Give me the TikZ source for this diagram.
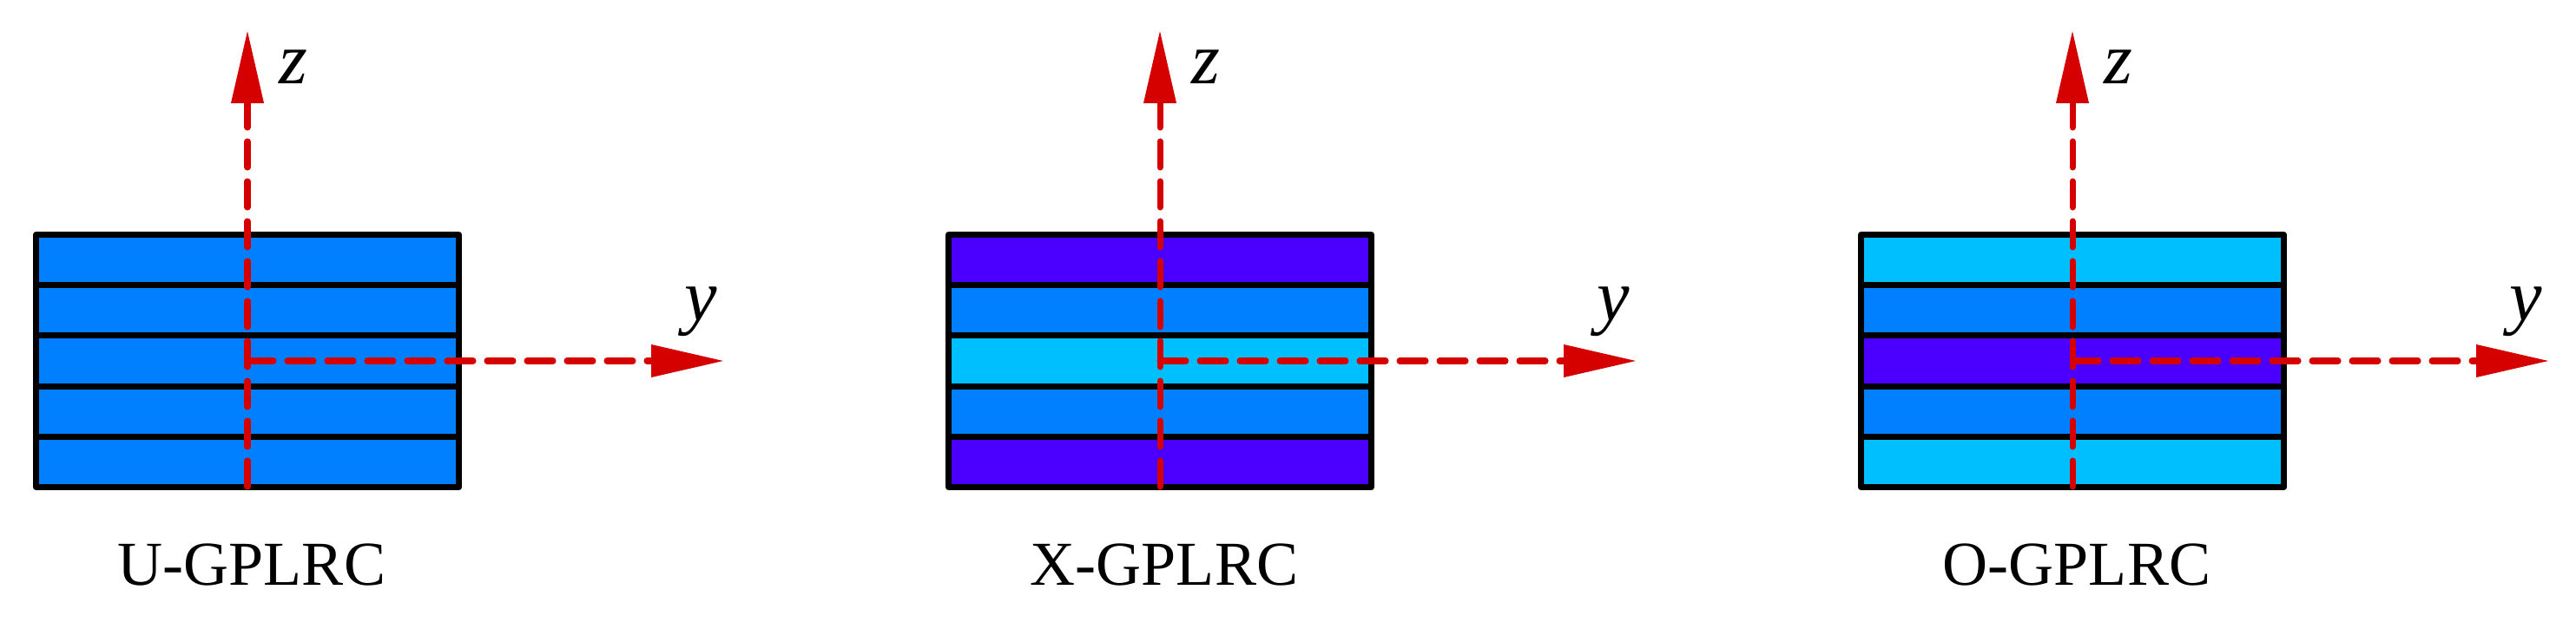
\documentclass[tikz,border=0pt]{standalone}
\usepackage{fontspec}
\setmainfont{Liberation Serif}
\usetikzlibrary{arrows.meta,calc}
\definecolor{gpblue}{RGB}{0,128,255}
\definecolor{gpcyan}{RGB}{0,191,255}
\definecolor{gppurple}{RGB}{75,0,255}
\definecolor{axisred}{RGB}{213,0,0}

\begin{document}
\begin{tikzpicture}[>={Triangle[length=8.4mm,width=3.6mm]},
  layer/.style={line width=2pt, line join=round},
  axis/.style={->, axisred, line width=2pt, line cap=round, dash pattern=on 3mm off 1.6mm},
  axlabel/.style={font=\fontsize{24}{28}\selectfont\itshape},
  caption/.style={font=\fontsize{20.5}{24}\selectfont}]
  \useasboundingbox (0,0) rectangle (29.67,7.25);

  \foreach \px/\outer/\ring/\core/\kind [count=\i] in
      {2.85/gpblue/gpblue/gpblue/U, 13.36/gppurple/gpblue/gpcyan/X, 23.87/gpcyan/gpblue/gppurple/O}{
    \coordinate (O\i) at (\px,3.09);
    \coordinate (SW\i) at ($(O\i)+(-2.435,-1.455)$);
    \coordinate (NE\i) at ($(O\i)+(2.435,1.455)$);
    \coordinate (B\i) at ($(O\i)+(0,-1.45)$);
    \coordinate (Z\i) at ($(O\i)+(0,3.81)$);
    \coordinate (Y\i) at ($(O\i)+(5.49,0)$);

    % layers, bottom to top
    \foreach \c [count=\k from 0] in {\outer,\ring,\core,\ring,\outer}
      \fill[fill=\c] ($(SW\i)+(0,\k*0.582)$) rectangle ++(4.87,0.582);
    \draw[layer] (SW\i) rectangle (NE\i);
    \foreach \k in {1,...,4}
      \draw[layer] ($(SW\i)+(0,\k*0.582)$) -- ++(4.87,0);

    \draw[axis] (B\i) -- (Z\i);
    \draw[axis] (O\i) -- (Y\i);

    \node[axlabel] (zlab\i) at ($(O\i)+(0.53,3.39)$) {z};
    \node[axlabel] (ylab\i) at ($(O\i)+(5.22,0.57)$) {y};
    \node[caption] (name\i) at ($(O\i)+(0.05,-2.35)$) {\kind-GPLRC};
  }
\end{tikzpicture}
\end{document}
